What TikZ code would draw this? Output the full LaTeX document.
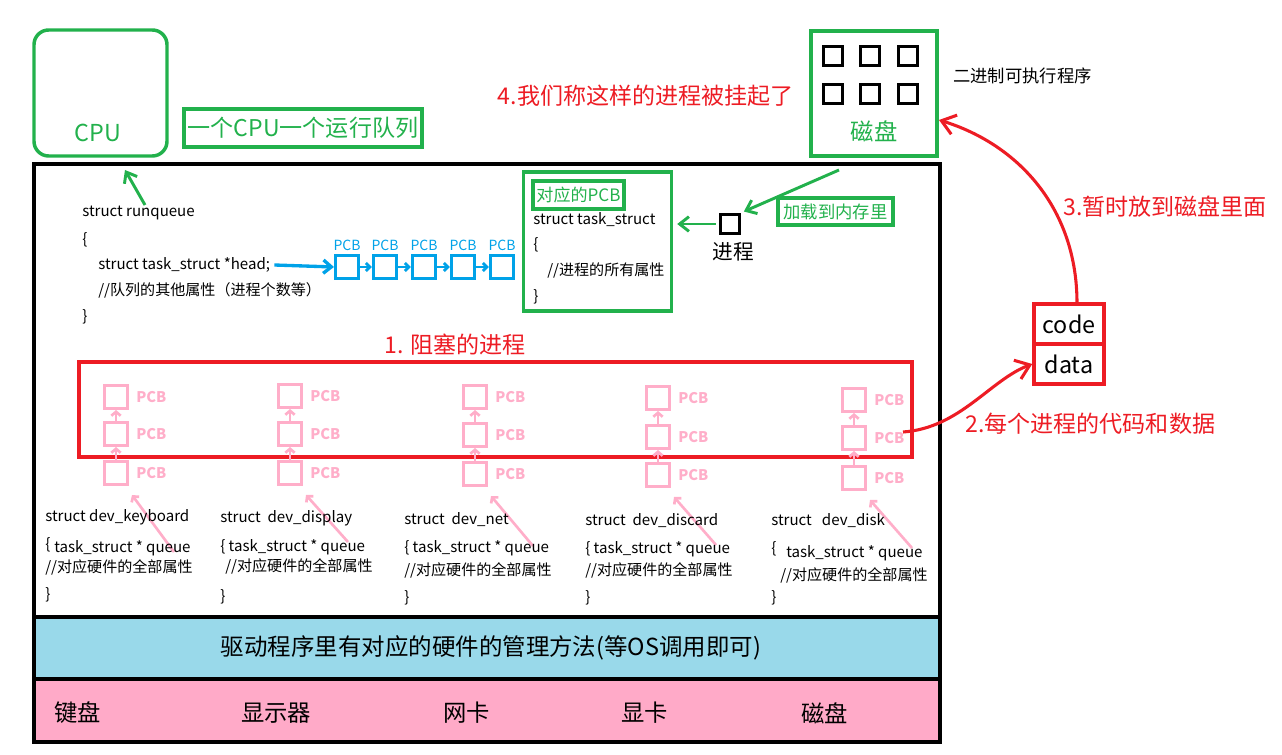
\documentclass[tikz,border=0pt]{standalone}
\usepackage{fontspec}
\setmainfont{Noto Sans CJK SC}
\usetikzlibrary{arrows.meta}
\definecolor{pgreen}{RGB}{34,177,76}
\definecolor{pred}{RGB}{237,28,36}
\definecolor{pblue}{RGB}{0,162,232}
\definecolor{ppink}{RGB}{255,174,201}
\definecolor{bandblue}{RGB}{153,217,234}
\definecolor{bandpink}{RGB}{255,170,200}
\newcommand\myfs[1]{\fontsize{#1}{#1}\selectfont}
\tikzset{
 code/.style={anchor=west, inner sep=0pt, font=\myfs{11.3}},
 gbox/.style={draw=pgreen, line width=2.6pt, inner sep=0pt},
 garrow/.style={draw=pgreen, line width=2.2pt, -{Straight Barb[length=7pt,width=11pt]}},
 rarrow/.style={draw=pred, line width=2.3pt, -{Straight Barb[length=10pt,width=15pt]}},
 barrow/.style={draw=pblue, line width=2.5pt, -{Straight Barb[length=6pt,width=10pt]}},
 bsmall/.style={draw=pblue, line width=2.2pt, -{Straight Barb[length=3pt,width=6pt]}},
 pbox/.style={draw=ppink, line width=2.5pt, minimum size=17pt, inner sep=0pt},
 bbox/.style={draw=pblue, line width=2.6pt, minimum size=17pt, inner sep=0pt},
 ksq/.style={draw=black, line width=2.6pt, minimum size=14.5pt, inner sep=0pt},
 parrow/.style={draw=ppink, line width=2pt, -{Straight Barb[length=3pt,width=7pt]}},
 redlbl/.style={text=pred, font=\myfs{17.3}, inner sep=0pt},
 pcbp/.style={text=ppink, font=\myfs{11}\bfseries, anchor=west, inner sep=0pt},
 pcbb/.style={text=pblue, font=\myfs{10.5}, inner sep=0pt},
 big/.style={font=\myfs{17.5}, inner sep=0pt},
}
\begin{document}
\begin{tikzpicture}[x=0.75pt,y=-0.75pt]
\useasboundingbox (0,0) rectangle (1282,755);

% ---------- main frame and bands
\draw[line width=2.8pt] (34,164) rectangle (940,617);
\draw[line width=2.8pt, fill=bandblue] (34,617) rectangle (940,679);
\draw[line width=2.8pt, fill=bandpink] (34,679) rectangle (940,742);
\node[font=\myfs{17.6}, inner sep=0pt] (driver) at (491,648) {驱动程序里有对应的硬件的管理方法(等OS调用即可)};
\node[big, anchor=west] (hw1) at (54,713) {键盘};
\node[big, anchor=west] (hw2) at (241,713) {显示器};
\node[big, anchor=west] (hw3) at (443,713) {网卡};
\node[big, anchor=west] (hw4) at (621,713) {显卡};
\node[big, anchor=west] (hw5) at (801,713) {磁盘};

% ---------- CPU
\node[gbox, rounded corners=11pt, minimum width=99.75pt, minimum height=94.5pt] (cpubox) at (100.5,93) {};
\node[big, text=pgreen] (cpulbl) at (98,133) {CPU};
\node[gbox, minimum width=178.5pt, minimum height=28.5pt, text=pgreen, font=\myfs{17.3}] (rqlbl) at (303,128) {一个CPU一个运行队列};
\coordinate (cputail) at (145,205);
\coordinate (cputip) at (125,170);
\draw[garrow] (cputail) -- (cputip);

% ---------- runqueue
\node[code] (rq1) at (82,213) {struct runqueue};
\node[code] (rq2) at (82,240) {\{};
\node[code] (rq3) at (98,265) {struct task\_struct *head;};
\node[code] (rq4) at (98,290) {//队列的其他属性（进程个数等）};
\node[code] (rq5) at (82,317) {\}};
\foreach \i/\x in {1/347,2/385,3/424,4/463,5/502}{
  \node[bbox] (b\i) at (\x,267) {};
  \node[pcbb] (bl\i) at (\x,245) {PCB};
}
\draw[barrow] ([xshift=3pt]rq3.east) -- (b1.west);
\foreach \i/\j in {1/2,2/3,3/4,4/5}{ \draw[bsmall] (b\i.east) -- (b\j.west); }

% ---------- task_struct
\node[gbox, minimum width=111pt, minimum height=104.25pt] (tsbox) at (597.5,241.5) {};
\node[gbox, minimum width=68.25pt, minimum height=21pt, text=pgreen, font=\myfs{12.8}] (pcbtag) at (578.5,195) {对应的PCB};
\node[code] (ts1) at (533,220) {struct task\_struct};
\node[code] (ts2) at (533,245) {\{};
\node[code] (ts3) at (547,270) {//进程的所有属性};
\node[code] (ts4) at (533,297) {\}};

% ---------- process
\node[ksq] (proc) at (730,224) {};
\node[font=\myfs{15.5}, inner sep=0pt] (proclbl) at (733,252) {进程};
\draw[garrow, shorten <=2pt, shorten >=3pt] (proc.west) -- (tsbox.east |- proc.west);
\coordinate (loadtail) at (839,170);
\draw[garrow, shorten >=2pt] (loadtail) -- (proc.north east);
\node[gbox, minimum width=86.25pt, minimum height=20pt, text=pgreen, font=\myfs{13}] (loadlbl) at (835.5,211.5) {加载到内存里};

% ---------- disk
\node[gbox, minimum width=94.5pt, minimum height=93.75pt] (disk) at (874,93.5) {};
\foreach \n/\x/\y in {1/833/56,2/870/56,3/908/56,4/833/94,5/870/94,6/908/94}{
  \node[ksq] (sq\n) at (\x,\y) {};
}
\node[big, text=pgreen] (disklbl) at (874,131) {磁盘};
\node[font=\myfs{13}, anchor=west, inner sep=0pt] (binlbl) at (953,76) {二进制可执行程序};
\node[redlbl] (l4) at (646,96) {4.我们称这样的进程被挂起了};

% ---------- code / data
\node[draw=pred, line width=2.6pt, minimum width=52.5pt, minimum height=30pt, big, inner sep=0pt] (codebox) at (1069,324) {code};
\node[draw=pred, line width=2.6pt, minimum width=52.5pt, minimum height=30pt, big, inner sep=0pt] (databox) at (1069,364) {data};
\coordinate (codeout) at (1077,303);
\coordinate (diskin) at (939,120);
\draw[rarrow] (codeout) .. controls (1077,210) and (1020,145) .. (diskin);
\node[redlbl, anchor=west] (l3) at (1063,207) {3.暂时放到磁盘里面};

% ---------- blocked processes
\node[draw=pred, line width=2.8pt, minimum width=624.75pt, minimum height=71.25pt] (blocked) at (495.5,409.5) {};
\node[redlbl] (l1) at (455,345) {1. 阻塞的进程};
\foreach \i/\cx/\ya/\yb/\yc/\tl in {1/116/397/434/473/57,2/290/396/434/473/47,3/475/397/435/474/50,4/658/398/437/475/48,5/854/400/438/478/48}{
  \node[pbox] (pa\i) at (\cx,\ya) {};
  \node[pbox] (pb\i) at (\cx,\yb) {};
  \node[pbox] (pc\i) at (\cx,\yc) {};
  \node[pcbp] (pla\i) at (\cx+20,\ya) {PCB};
  \node[pcbp] (plb\i) at (\cx+20,\yb) {PCB};
  \node[pcbp] (plc\i) at (\cx+20,\yc) {PCB};
  \draw[parrow] (pc\i.north) -- (pb\i.south);
  \draw[parrow] (pb\i.north) -- (pa\i.south);
  \coordinate (ptip\i) at (\cx+16,\yc+22);
  \coordinate (ptail\i) at (\cx+58,\yc+22+\tl);
  \draw[parrow] (ptail\i) -- (ptip\i);
}
\coordinate (blkout) at (903,432);
\draw[rarrow] (blkout) .. controls (960,428) and (990,380) .. (databox.west);
\node[redlbl, anchor=west] (l2) at (965,424) {2.每个进程的代码和数据};

% ---------- device structs
\node[code] (k1) at (45,517) {struct dev\_keyboard};
\node[code] (k2) at (45,545) {\{};
\node[code] (k3) at (54,548) {task\_struct * queue};
\node[code] (k4) at (45,567) {//对应硬件的全部属性};
\node[code] (k5) at (45,595) {\}};

\node[code] (d1) at (220,518) {struct\ \ dev\_display};
\node[code] (d2) at (220,547) {\{ task\_struct * queue};
\node[code] (d3) at (225,566) {//对应硬件的全部属性};
\node[code] (d4) at (220,597) {\}};

\node[code] (n1) at (404,520) {struct\ \ dev\_net};
\node[code] (n2) at (404,548) {\{ task\_struct * queue};
\node[code] (n3) at (404,570) {//对应硬件的全部属性};
\node[code] (n4) at (404,598) {\}};

\node[code] (c1) at (585,521) {struct\ \ dev\_discard};
\node[code] (c2) at (585,549) {\{ task\_struct * queue};
\node[code] (c3) at (585,570) {//对应硬件的全部属性};
\node[code] (c4) at (585,598) {\}};

\node[code] (s1) at (771,521) {struct\ \ \ dev\_disk};
\node[code] (s2) at (771,549) {\{};
\node[code] (s3) at (786,553) {task\_struct * queue};
\node[code] (s4) at (780,575) {//对应硬件的全部属性};
\node[code] (s5) at (771,598) {\}};
\end{tikzpicture}
\end{document}
